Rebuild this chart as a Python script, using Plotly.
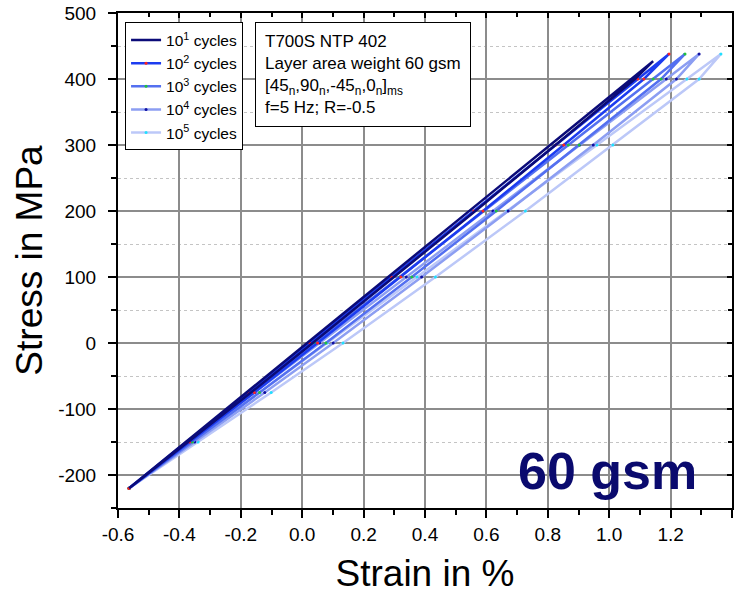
import plotly.graph_objects as go

# ---- data ----
labels = ["10<sup>1</sup> cycles", "10<sup>2</sup> cycles", "10<sup>3</sup> cycles",
          "10<sup>4</sup> cycles", "10<sup>5</sup> cycles"]

stress_1 = [-220, -150, -75, 0, 100, 200, 300, 400, 427]
stress_2 = [-220, -150, -75, 0, 100, 200, 300, 400, 438]
stress_3 = [-220, -150, -75, 0, 100, 200, 300, 400, 438]
stress_4 = [-220, -150, -75, 0, 100, 200, 300, 400, 438]
stress_5 = [-220, -150, -75, 0, 100, 200, 300, 400, 438]

upper_1 = [-0.564, -0.379, -0.181, 0.016, 0.280, 0.544, 0.808, 1.072, 1.143]
lower_1 = [-0.564, -0.371, -0.167, 0.034, 0.300, 0.564, 0.825, 1.084, 1.143]
upper_2 = [-0.564, -0.377, -0.176, 0.024, 0.291, 0.559, 0.826, 1.093, 1.195]
lower_2 = [-0.564, -0.367, -0.156, 0.050, 0.321, 0.589, 0.852, 1.113, 1.195]
upper_3 = [-0.564, -0.371, -0.165, 0.042, 0.317, 0.592, 0.867, 1.143, 1.247]
lower_3 = [-0.564, -0.358, -0.139, 0.077, 0.357, 0.632, 0.902, 1.169, 1.247]
upper_4 = [-0.564, -0.366, -0.154, 0.057, 0.339, 0.621, 0.904, 1.186, 1.293]
lower_4 = [-0.564, -0.350, -0.122, 0.101, 0.389, 0.671, 0.948, 1.219, 1.293]
upper_5 = [-0.564, -0.359, -0.139, 0.081, 0.374, 0.667, 0.960, 1.253, 1.364]
lower_5 = [-0.564, -0.339, -0.101, 0.133, 0.434, 0.727, 1.012, 1.293, 1.364]

x_ticks = [-0.6, -0.4, -0.2, 0.0, 0.2, 0.4, 0.6, 0.8, 1.0, 1.2, 1.4]
x_tick_text = ["-0.6", "-0.4", "-0.2", "0.0", "0.2", "0.4", "0.6", "0.8", "1.0", "1.2", "1.4"]
y_ticks = [-200, -100, 0, 100, 200, 300, 400, 500]
y_tick_text = ["-200", "-100", "0", "100", "200", "300", "400", "500"]

stresses = [stress_1, stress_2, stress_3, stress_4, stress_5]
uppers = [upper_1, upper_2, upper_3, upper_4, upper_5]
lowers = [lower_1, lower_2, lower_3, lower_4, lower_5]

line_colors = ["#0b0b78", "#1c3cf0", "#5470f0", "#8c9ef2", "#bcc8f8"]
marker_colors = ["#0b0b78", "#ff2020", "#20c040", "#1010a0", "#20e0ff"]

fig = go.Figure()
for i in reversed(range(5)):
    s = stresses[i]
    xs = lowers[i] + uppers[i][::-1][1:]
    ys = s + s[::-1][1:]
    fig.add_trace(go.Scatter(
        x=xs, y=ys, mode="lines+markers" if i > 0 else "lines",
        name=labels[i], legendrank=i + 1,
        line=dict(color=line_colors[i], width=2.5),
        marker=dict(color=marker_colors[i], size=3),
    ))

# dummy trace for mirrored top/right axes
fig.add_trace(go.Scatter(x=[None], y=[None], xaxis="x2", yaxis="y2",
                         showlegend=False, hoverinfo="skip"))

font_family = "Liberation Sans, Arial, sans-serif"

fig.update_layout(
    width=744, height=594,
    margin=dict(l=118, r=12, t=13, b=86),
    paper_bgcolor="white", plot_bgcolor="white",
    font=dict(family=font_family, color="black"),
    showlegend=True,
    legend=dict(x=0.0115, y=0.981, xanchor="left", yanchor="top",
                bgcolor="white", bordercolor="black", borderwidth=1,
                font=dict(size=15.5, family=font_family), traceorder="normal",
                itemwidth=30, tracegroupgap=0),
    xaxis=dict(range=[-0.6, 1.4], tickvals=x_ticks, ticktext=x_tick_text,
               ticks="outside", ticklen=8, tickwidth=1.5, tickcolor="black",
               showline=True, linecolor="black", linewidth=2,
               showgrid=True, gridcolor="#8c8c8c", gridwidth=1.5,
               zeroline=False, automargin=False,
               tickfont=dict(size=19),
               title=dict(text="Strain in %", font=dict(size=37), standoff=16),
               minor=dict(dtick=0.1, tick0=-0.6, ticks="outside", ticklen=5,
                          tickcolor="black", tickwidth=1.5, showgrid=False)),
    yaxis=dict(range=[-250, 500], tickvals=y_ticks, ticktext=y_tick_text,
               ticks="outside", ticklen=8, tickwidth=1.5, tickcolor="black",
               showline=True, linecolor="black", linewidth=2,
               showgrid=True, gridcolor="#8c8c8c", gridwidth=1.5,
               zeroline=False, automargin=False, ticklabelstandoff=8,
               tickfont=dict(size=19),
               title=dict(text="Stress in MPa", font=dict(size=37), standoff=4),
               minor=dict(dtick=50, tick0=0, ticks="outside", ticklen=5,
                          tickcolor="black", tickwidth=1.5, showgrid=True,
                          gridcolor="#c4c4c4", griddash="dot", gridwidth=1)),
    xaxis2=dict(range=[-0.6, 1.4], overlaying="x", side="top", anchor="y",
                tickvals=x_ticks, showticklabels=False,
                ticks="inside", ticklen=5, tickwidth=1.5, tickcolor="black",
                showline=True, linecolor="black", linewidth=2,
                showgrid=False, zeroline=False, automargin=False,
                minor=dict(dtick=0.1, tick0=-0.6, ticks="inside", ticklen=4,
                           tickcolor="black", tickwidth=1.5, showgrid=False)),
    yaxis2=dict(range=[-250, 500], overlaying="y", side="right", anchor="x",
                tickvals=y_ticks, showticklabels=False,
                ticks="inside", ticklen=5, tickwidth=1.5, tickcolor="black",
                showline=True, linecolor="black", linewidth=2,
                showgrid=False, zeroline=False, automargin=False,
                minor=dict(dtick=50, tick0=0, ticks="inside", ticklen=4,
                           tickcolor="black", tickwidth=1.5, showgrid=False)),
)

fig.add_annotation(
    xref="paper", yref="paper", x=0.223, y=0.981, xanchor="left", yanchor="top",
    text=("T700S NTP 402<br>Layer area weight 60 gsm<br>"
          "[45<sub>n</sub>,90<sub>n</sub>,-45<sub>n</sub>,0<sub>n</sub>]<sub>ms</sub><br>"
          "f=5 Hz; R=-0.5"),
    align="left", showarrow=False,
    font=dict(size=17, family=font_family, color="black"),
    bgcolor="white", bordercolor="black", borderwidth=1, borderpad=9,
)

fig.add_annotation(
    xref="paper", yref="paper", x=0.797, y=0.074, xanchor="center", yanchor="middle",
    text="<b>60 gsm</b>", showarrow=False,
    font=dict(size=52, family=font_family, color="#0a0a6e"),
)

fig.write_html("out.html")
